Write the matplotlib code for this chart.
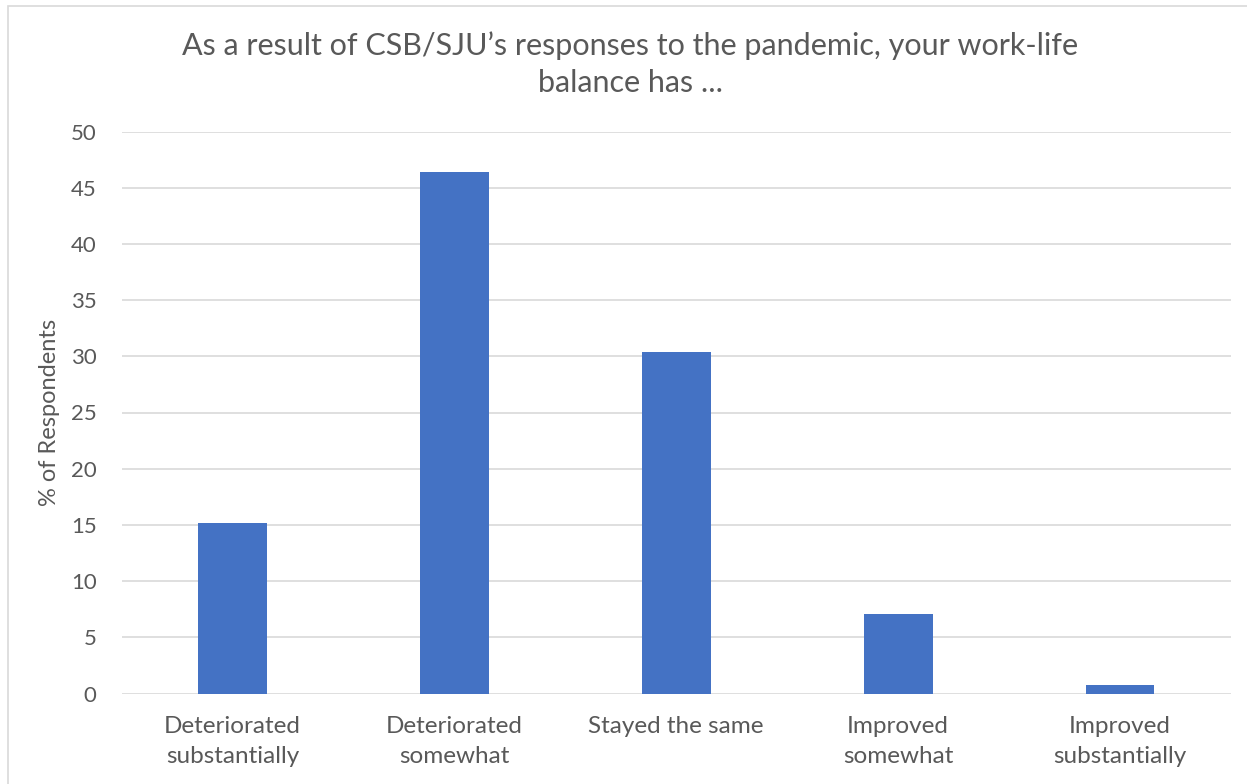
import matplotlib
matplotlib.use("Agg")
import matplotlib.pyplot as plt
from matplotlib.patches import Rectangle

categories = ["Deteriorated\nsubstantially", "Deteriorated\nsomewhat", "Stayed the same",
              "Improved\nsomewhat", "Improved\nsubstantially"]
percent = [15.2, 46.4, 30.4, 7.1, 0.8]
yticks = [0, 5, 10, 15, 20, 25, 30, 35, 40, 45, 50]

title = "As a result of CSB/SJU\u2019s responses to the pandemic, your work-life\nbalance has ..."
ylabel = "% of Respondents"

text_color = "#595959"
bar_color = "#4472C4"
grid_color = "#D9D9D9"

plt.rcParams["font.family"] = ["Lato", "DejaVu Sans"]

W, H = 1247, 784
fig = plt.figure(figsize=(W / 100, H / 100), dpi=100)
fig.patch.set_facecolor("white")

# chart frame
fig.add_artist(Rectangle((8 / W, -0.01), 1.1, 1 - 6 / H + 0.01, transform=fig.transFigure,
                         fill=False, edgecolor="#D9D9D9", linewidth=1.2))

left, right, top, bottom = 121.5, 1231, 131.5, 693.5
ax = fig.add_axes([left / W, 1 - bottom / H, (right - left) / W, (bottom - top) / H])

x = range(len(categories))
ax.bar(x, percent, width=0.31, color=bar_color, zorder=3)

ax.set_xlim(-0.5, len(categories) - 0.5)
ax.set_ylim(0, 50)
ax.set_yticks(yticks)
ax.set_yticklabels([str(v) for v in yticks], fontsize=16, color=text_color)
ax.set_xticks(list(x))
ax.set_xticklabels(categories, fontsize=17.5, color=text_color, linespacing=1.55)

ax.grid(axis="y", color=grid_color, linewidth=1.2, zorder=0)
for s in ax.spines.values():
    s.set_visible(False)
ax.tick_params(axis="both", length=0)
ax.tick_params(axis="y", pad=18)
ax.tick_params(axis="x", pad=16)

ax.set_ylabel(ylabel, fontsize=17, color=text_color, labelpad=8)

fig.text(630 / W, 1 - 64 / H, title, ha="center", va="center", fontsize=22,
         color=text_color, linespacing=1.4)

fig.savefig("out.png", dpi=100, facecolor="white")
